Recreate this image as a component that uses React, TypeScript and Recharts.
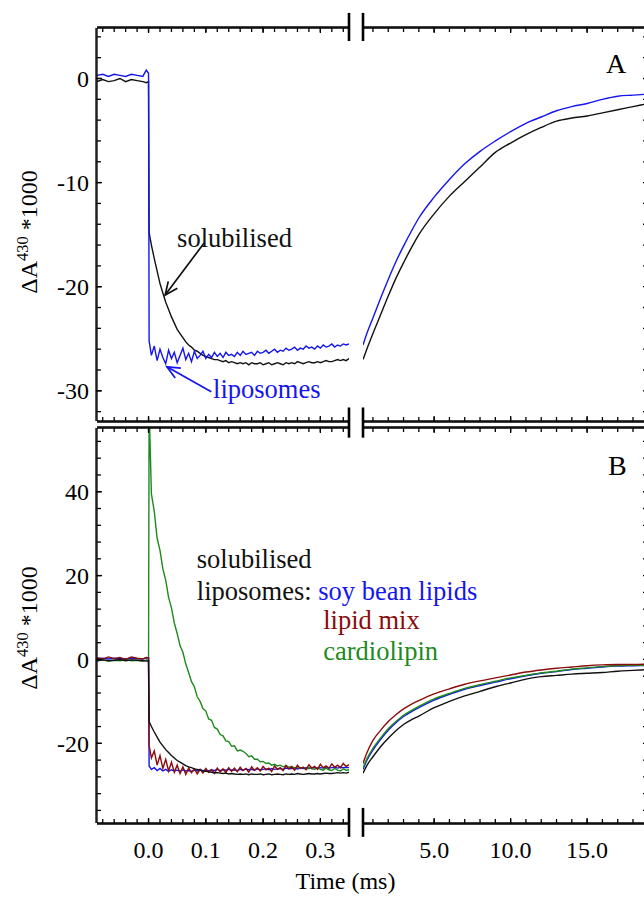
import React from "react";
import { LineChart, Line, XAxis, YAxis, ReferenceLine, ReferenceDot } from "recharts";

const FONT = '"Liberation Serif", "Times New Roman", serif';
const W = 660;
const H = 897;

// time grids (ms)
const fastTime = [
  -0.09, -0.08, -0.07, -0.06, -0.05, -0.04, -0.03, -0.02, -0.01, -0.004,
  0, 0.001, 0.005, 0.01, 0.015, 0.02, 0.025, 0.03, 0.035, 0.04,
  0.045, 0.05, 0.055, 0.06, 0.065, 0.07, 0.075, 0.08, 0.085, 0.09,
  0.095, 0.1, 0.105, 0.11, 0.115, 0.12, 0.125, 0.13, 0.135, 0.14,
  0.145, 0.15, 0.155, 0.16, 0.165, 0.17, 0.175, 0.18, 0.185, 0.19,
  0.195, 0.2, 0.205, 0.21, 0.215, 0.22, 0.225, 0.23, 0.235, 0.24,
  0.245, 0.25, 0.255, 0.26, 0.265, 0.27, 0.275, 0.28, 0.285, 0.29,
  0.295, 0.3, 0.305, 0.31, 0.315, 0.32, 0.325, 0.33, 0.335, 0.34,
  0.345, 0.35,
];
const slowTime = [0.35, 0.6, 1, 1.5, 2, 2.5, 3, 3.5, 4, 5, 6, 7, 8, 9, 10, 11, 12, 13, 14, 15, 16, 17, 18, 19];

// solubilised enzyme (black), same trace in both panels for the fast part
const solubilisedFast = [
  -0.3, -0.1, -0.3, -0.2, 0.0, -0.3, -0.1, -0.2, -0.3, -0.4,
  -0.3, -14.8, -16.0, -17.3, -18.5, -19.7, -20.6, -21.5, -22.2, -22.9,
  -23.5, -24.1, -24.5, -24.9, -25.3, -25.6, -25.8, -26.1, -26.2, -26.4,
  -26.6, -26.7, -26.8, -26.9, -27.0, -27.0, -27.1, -27.2, -27.1, -27.3,
  -27.2, -27.3, -27.4, -27.3, -27.4, -27.3, -27.5, -27.3, -27.4, -27.4,
  -27.3, -27.5, -27.4, -27.3, -27.5, -27.4, -27.3, -27.4, -27.5, -27.3,
  -27.4, -27.3, -27.4, -27.2, -27.3, -27.4, -27.3, -27.2, -27.3, -27.3,
  -27.2, -27.3, -27.2, -27.1, -27.2, -27.2, -27.1, -27.0, -27.1, -27.0,
  -27.1, -26.9,
];

// panel A: liposomes (blue)
const liposomesFastA = [
  0.3, 0.4, 0.2, 0.4, 0.3, 0.2, 0.4, 0.3, 0.2, 0.8,
  0.5, -25.2, -26.6, -25.7, -27.1, -26.0, -26.8, -27.4, -26.1, -26.9,
  -26.3, -27.3, -26.6, -25.9, -27.0, -26.4, -27.2, -26.2, -26.9, -26.6,
  -26.2, -26.9, -26.5, -26.8, -26.3, -26.7, -26.4, -26.8, -26.3, -26.6,
  -26.5, -26.7, -26.3, -26.6, -26.2, -26.5, -26.4, -26.3, -26.6, -26.2,
  -26.4, -26.3, -26.1, -26.4, -26.2, -26.0, -26.3, -26.1, -26.2, -25.9,
  -26.1, -26.0, -25.8, -26.1, -25.9, -26.0, -25.7, -25.9, -25.8, -26.0,
  -25.7, -25.9, -25.6, -25.8, -25.7, -25.5, -25.8, -25.6, -25.7, -25.5,
  -25.6, -25.5,
];
const solubilisedSlowA = [-27.0, -26.0, -24.5, -22.7, -20.9, -19.2, -17.7, -16.3, -15.0, -13.0, -11.3, -9.9, -8.5, -7.1, -6.2, -5.4, -4.7, -4.1, -3.8, -3.6, -3.3, -3.0, -2.7, -2.4];
const liposomesSlowA = [-25.6, -24.5, -23.0, -21.1, -19.3, -17.6, -16.1, -14.7, -13.4, -11.4, -9.7, -8.2, -7.0, -6.0, -5.1, -4.3, -3.7, -3.1, -2.7, -2.4, -2.0, -1.7, -1.6, -1.5];

// panel B: liposomes of different lipids
const soyFastB = [
  0.2, 0.3, 0.1, 0.3, 0.2, 0.1, 0.3, 0.2, 0.1, 0.4,
  0.3, -25.4, -26.2, -25.8, -26.5, -26.0, -26.6, -26.2, -26.7, -26.3,
  -26.6, -26.4, -26.7, -26.3, -26.6, -26.5, -26.7, -26.4, -26.6, -26.3,
  -26.5, -26.4, -26.6, -26.3, -26.5, -26.2, -26.5, -26.3, -26.4, -26.2,
  -26.4, -26.3, -26.5, -26.2, -26.4, -26.1, -26.3, -26.2, -26.4, -26.1,
  -26.3, -26.2, -26.1, -26.3, -26.0, -26.2, -26.1, -26.0, -26.2, -25.9,
  -26.1, -26.0, -25.9, -26.1, -25.9, -26.0, -25.8, -26.0, -25.9, -25.8,
  -26.0, -25.8, -25.9, -25.7, -25.9, -25.8, -25.7, -25.9, -25.7, -25.8,
  -25.7, -25.8,
];
const lipidMixFastB = [
  0.4, 0.1, 0.6, 0.2, 0.5, 0.0, 0.6, 0.3, 0.1, 0.5,
  0.4, -20.5, -23.5, -21.8, -25.2, -22.9, -26.0, -23.8, -26.6, -24.5,
  -26.9, -25.2, -27.2, -25.6, -27.4, -25.9, -27.0, -26.1, -27.3, -26.2,
  -27.1, -26.0, -26.9, -26.3, -27.2, -25.9, -26.8, -26.1, -27.0, -25.8,
  -26.7, -25.9, -26.8, -25.7, -26.5, -26.0, -26.9, -25.6, -26.4, -25.8,
  -26.6, -25.5, -26.3, -25.9, -26.7, -25.4, -26.2, -25.8, -26.5, -25.3,
  -26.1, -25.6, -26.4, -25.2, -26.0, -25.7, -26.3, -25.1, -25.9, -25.5,
  -26.2, -25.0, -25.8, -25.4, -26.0, -24.9, -25.7, -25.2, -25.8, -24.8,
  -25.5, -25.1,
];
const cardiolipinFastB = [
  -0.3, -0.1, -0.4, -0.2, -0.3, 0.0, -0.3, -0.2, -0.4, -0.1,
  -0.2, 60, 39.5, 35.3, 28.9, 26.0, 21.6, 18.9, 14.8, 12.3,
  8.7, 6.2, 3.3, 1.7, -1.1, -3.1, -5.3, -6.5, -8.9, -10.0,
  -11.7, -12.3, -14.2, -14.5, -16.2, -16.6, -17.9, -18.2, -19.4, -19.6,
  -20.7, -20.6, -21.8, -21.6, -21.9, -22.4, -23.2, -23.0, -23.8, -23.8,
  -24.4, -24.3, -24.8, -24.7, -25.2, -25.0, -25.4, -25.2, -25.6, -25.3,
  -25.7, -25.5, -25.9, -25.6, -26.0, -25.7, -26.2, -25.8, -26.1, -26.2,
  -25.8, -26.2, -26.4, -25.9, -26.3, -26.5, -26.0, -26.4, -26.6, -26.1,
  -26.4, -26.3,
];
const solubilisedSlowB = [-27.1, -25.3, -23.2, -20.8, -18.8, -17.0, -15.5, -14.4, -13.5, -11.5, -10.0, -8.7, -7.6, -6.5, -5.6, -4.7, -4.1, -3.8, -3.5, -3.3, -3.1, -2.8, -2.6, -2.4];
const soySlowB = [-26.2, -24.1, -21.6, -19.1, -16.9, -15.1, -13.6, -12.5, -11.5, -9.7, -8.3, -7.1, -6.2, -5.4, -4.6, -3.9, -3.3, -2.9, -2.4, -2.1, -1.8, -1.6, -1.5, -1.4];
const lipidMixSlowB = [-24.8, -22.3, -19.3, -16.9, -14.8, -13.2, -11.8, -10.7, -9.8, -8.2, -7.0, -5.9, -5.1, -4.4, -3.7, -3.0, -2.5, -2.1, -1.8, -1.5, -1.3, -1.2, -1.2, -1.1];
const cardiolipinSlowB = [-25.9, -23.7, -21.2, -18.7, -16.5, -14.8, -13.3, -12.2, -11.2, -9.4, -8.1, -6.9, -6.0, -5.2, -4.4, -3.8, -3.2, -2.8, -2.3, -2.0, -1.7, -1.5, -1.4, -1.4];

// ticks
const fastMinor = [-0.08, -0.06, -0.04, -0.02, 0, 0.02, 0.04, 0.06, 0.08, 0.1, 0.12, 0.14, 0.16, 0.18, 0.2, 0.22, 0.24, 0.26, 0.28, 0.3, 0.32, 0.34];
const fastMajor = [0, 0.1, 0.2, 0.3];
const slowMinor = [1, 2, 3, 4, 5, 6, 7, 8, 9, 10, 11, 12, 13, 14, 15, 16, 17, 18];
const slowMajor = [5, 10, 15];
const yMinorA = [-32, -30, -28, -26, -24, -22, -20, -18, -16, -14, -12, -10, -8, -6, -4, -2, 0, 2, 4];
const yMajorA = [-30, -20, -10, 0];
const yMinorB = [-36, -32, -28, -24, -20, -16, -12, -8, -4, 0, 4, 8, 12, 16, 20, 24, 28, 32, 36, 40, 44, 48, 52];
const yMajorB = [-20, 0, 20, 40];

const BLACK = "#111";
const BLUE = "#1515ee";
const RED = "#8a0c0c";
const GREEN = "#1d8a1d";

const fastA = fastTime.map((t, i) => ({ t, sol: solubilisedFast[i], lip: liposomesFastA[i] }));
const slowA = slowTime.map((t, i) => ({ t, sol: solubilisedSlowA[i], lip: liposomesSlowA[i] }));
const fastB = fastTime.map((t, i) => ({
  t, sol: solubilisedFast[i], soy: soyFastB[i], mix: lipidMixFastB[i], card: cardiolipinFastB[i],
}));
const slowB = slowTime.map((t, i) => ({
  t, sol: solubilisedSlowB[i], soy: soySlowB[i], mix: lipidMixSlowB[i], card: cardiolipinSlowB[i],
}));

const tickFont = { fill: "#000", fontSize: 24, fontFamily: FONT };
const axisStyle = { stroke: "#000", strokeWidth: 1.3 };
const blank = () => "";

const arrow = (color: string) => (p: any) => {
  const { x1, y1, x2, y2 } = p;
  const a = Math.atan2(y1 - y2, x1 - x2);
  const L = 14;
  const s = 0.42;
  const pts = `${x2 + L * Math.cos(a + s)},${y2 + L * Math.sin(a + s)} ${x2},${y2} ${x2 + L * Math.cos(a - s)},${y2 + L * Math.sin(a - s)}`;
  return (
    <g stroke={color} strokeWidth={1.7} fill="none">
      <line x1={x1} y1={y1} x2={x2} y2={y2} />
      <polyline points={pts} />
    </g>
  );
};

const words = (parts: [string, string][], size = 26.5) => (p: any) => (
  <text x={p.cx} y={p.cy} fontFamily={FONT} fontSize={size} style={{ whiteSpace: "pre" }}>
    {parts.map(([s, c], i) => (
      <tspan key={i} fill={c}>{s}</tspan>
    ))}
  </text>
);

// break mark: thick vertical bar
const breakBar = (x: number, y1: number, y2: number) => (
  <ReferenceLine
    xAxisId="b1"
    yAxisId="l1"
    segment={[{ x, y: y1 }, { x, y: y2 }]}
    stroke="#000"
    strokeWidth={2.6}
    ifOverflow="visible"
  />
);

// frame axes: minor + major ticks on every side, all pointing inward
function Frame({ side, yDomain, yMinor, yMajor, labels }: any) {
  const left = side === "left";
  const xDom = left ? [-0.09, 0.35] : [0.35, 18.98];
  const minor = left ? fastMinor : slowMinor;
  const major = left ? fastMajor : slowMajor;
  const common = {
    dataKey: "t", type: "number" as const, domain: xDom, allowDataOverflow: true, height: 1, interval: 0 as const,
    axisLine: axisStyle, tickLine: axisStyle, tick: tickFont,
  };
  const ycommon = {
    type: "number" as const, domain: yDomain, allowDataOverflow: true, width: 1, interval: 0 as const,
    axisLine: axisStyle, tickLine: axisStyle, tick: tickFont, orientation: (left ? "left" : "right") as any,
  };
  return [
    <XAxis key="b1" xAxisId="b1" {...common} orientation="bottom" ticks={minor} tickSize={-4} tickFormatter={blank} />,
    <XAxis key="b2" xAxisId="b2" {...common} orientation="bottom" ticks={major} tickSize={-6} tickMargin={23}
      tickFormatter={labels ? (v: number) => v.toFixed(1) : blank} />,
    <XAxis key="t1" xAxisId="t1" {...common} orientation="top" ticks={minor} tickSize={-4} tickFormatter={blank} />,
    <XAxis key="t2" xAxisId="t2" {...common} orientation="top" ticks={major} tickSize={-6} tickFormatter={blank} />,
    <YAxis key="l1" yAxisId="l1" {...ycommon} ticks={yMinor} tickSize={left ? -4 : -5} tickFormatter={blank} />,
    <YAxis key="l2" yAxisId="l2" {...ycommon} ticks={yMajor} tickSize={left ? -6 : -5} tickMargin={13}
      tickFormatter={left ? (v: number) => String(v) : blank} />,
  ];
}

const line = (key: string, color: string, smooth = false) => (
  <Line
    key={key}
    xAxisId="b1"
    yAxisId="l1"
    dataKey={key}
    type={smooth ? "monotone" : "linear"}
    stroke={color}
    strokeWidth={1.4}
    dot={false}
    isAnimationActive={false}
  />
);

const abs: React.CSSProperties = { position: "absolute", left: 0, top: 0 };
const A_DOM = [-32.9, 4.85];
const B_DOM = [-39, 55.2];
// two 1px axes per side
const mA = { top: 26, bottom: H - 421 - 2 };
const mB = { top: 426, bottom: H - 823 - 2 };
const mLeft = { left: 95, right: W - 349 };
const mRight = { left: 363, right: W - 648 - 2 };

export default function App() {
  return (
    <div style={{ position: "absolute", left: 0, top: 0, width: 644, height: 897, overflow: "hidden", background: "#fff", fontFamily: FONT }}>
      {/* panel A, fast part */}
      <div style={abs}>
        <LineChart width={W} height={H} data={fastA} margin={{ ...mA, ...mLeft }}>
          {Frame({ side: "left", yDomain: A_DOM, yMinor: yMinorA, yMajor: yMajorA, labels: false })}
          {line("sol", BLACK)}
          {line("lip", BLUE)}
          {breakBar(0.35, 6.3, 3.6)}
          {breakBar(0.35, -31.6, -34.5)}
          <ReferenceLine xAxisId="b1" yAxisId="l1" ifOverflow="visible"
            segment={[{ x: 0.097, y: -15.8 }, { x: 0.029, y: -20.8 }]} shape={arrow(BLACK)} />
          <ReferenceLine xAxisId="b1" yAxisId="l1" ifOverflow="visible"
            segment={[{ x: 0.1095, y: -30.1 }, { x: 0.032, y: -27.7 }]} shape={arrow(BLUE)} />
          <ReferenceDot xAxisId="b1" yAxisId="l1" x={0.0498} y={-16.2} ifOverflow="visible" shape={words([["solubilised", BLACK]])} />
          <ReferenceDot xAxisId="b1" yAxisId="l1" x={0.1126} y={-30.7} ifOverflow="visible" shape={words([["liposomes", BLUE]])} />
        </LineChart>
      </div>
      {/* panel A, slow part */}
      <div style={abs}>
        <LineChart width={W} height={H} data={slowA} margin={{ ...mA, ...mRight }}>
          {Frame({ side: "right", yDomain: A_DOM, yMinor: yMinorA, yMajor: yMajorA, labels: false })}
          {line("sol", BLACK, true)}
          {line("lip", BLUE, true)}
          {breakBar(0.35, 6.3, 3.6)}
          {breakBar(0.35, -31.6, -34.5)}
          <ReferenceDot xAxisId="b1" yAxisId="l1" x={16.24} y={0.54} ifOverflow="visible" shape={words([["A", "#000"]], 28)} />
        </LineChart>
      </div>
      {/* panel B, fast part */}
      <div style={abs}>
        <LineChart width={W} height={H} data={fastB} margin={{ ...mB, ...mLeft }}>
          {Frame({ side: "left", yDomain: B_DOM, yMinor: yMinorB, yMajor: yMajorB, labels: true })}
          {line("soy", BLUE)}
          {line("card", GREEN)}
          {line("mix", RED)}
          {line("sol", BLACK)}
          {breakBar(0.35, -35.4, -42.3)}
          <ReferenceDot xAxisId="b1" yAxisId="l1" x={0.0842} y={21.7} ifOverflow="visible" shape={words([["solubilised", BLACK]])} />
          <ReferenceDot xAxisId="b1" yAxisId="l1" x={0.0842} y={14.2} ifOverflow="visible"
            shape={words([["liposomes: ", BLACK], ["soy bean lipids", BLUE]])} />
          <ReferenceDot xAxisId="b1" yAxisId="l1" x={0.305} y={7.2} ifOverflow="visible" shape={words([["lipid mix", RED]])} />
          <ReferenceDot xAxisId="b1" yAxisId="l1" x={0.305} y={-0.1} ifOverflow="visible" shape={words([["cardiolipin", GREEN]])} />
        </LineChart>
      </div>
      {/* panel B, slow part */}
      <div style={abs}>
        <LineChart width={W} height={H} data={slowB} margin={{ ...mB, ...mRight }}>
          {Frame({ side: "right", yDomain: B_DOM, yMinor: yMinorB, yMajor: yMajorB, labels: true })}
          {line("sol", BLACK, true)}
          {line("soy", BLUE, true)}
          {line("card", GREEN, true)}
          {line("mix", RED, true)}
          {breakBar(0.35, -35.4, -42.3)}
          <ReferenceDot xAxisId="b1" yAxisId="l1" x={16.37} y={44.0} ifOverflow="visible" shape={words([["B", "#000"]], 28)} />
        </LineChart>
      </div>
      {/* axis titles */}
      {[232, 628].map((cy) => (
        <div key={cy} style={{
          position: "absolute", left: 26, top: cy, transform: "translate(-50%, -50%) rotate(-90deg)",
          whiteSpace: "nowrap", fontFamily: FONT, fontSize: 24, lineHeight: "24px", color: "#000",
        }}>
          ΔA<span style={{ fontSize: 16.5, verticalAlign: "0.5em" }}>430</span> *1000
        </div>
      ))}
      <div style={{ position: "absolute", left: 345.5, top: 869, transform: "translateX(-50%)", fontFamily: FONT, fontSize: 24, lineHeight: "24px", whiteSpace: "nowrap", color: "#000" }}>
        Time (ms)
      </div>
    </div>
  );
}
